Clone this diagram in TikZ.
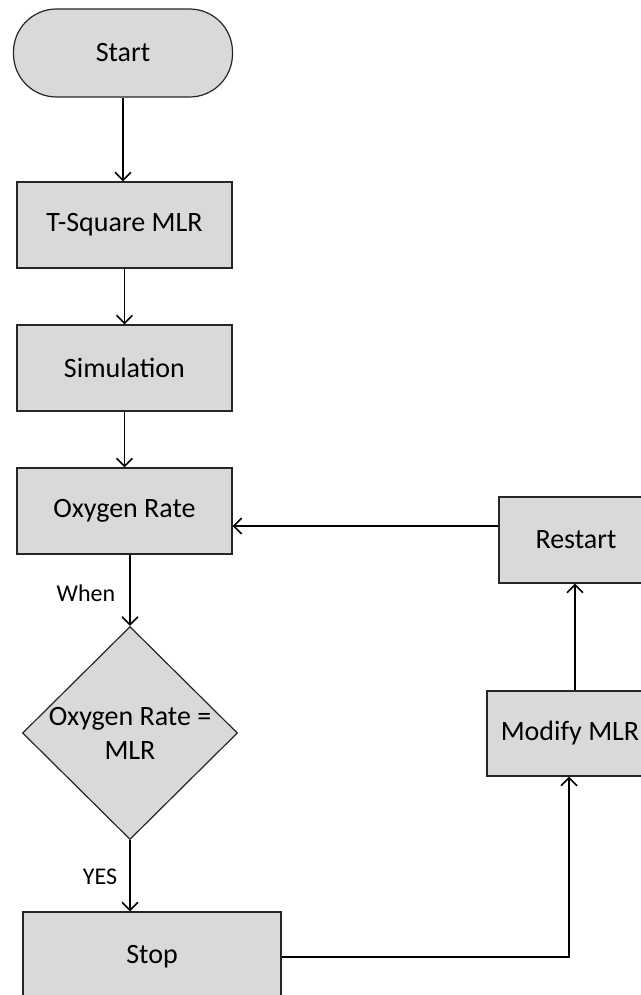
\documentclass[tikz,border=0pt]{standalone}
\usepackage{fontspec}
\setmainfont{Carlito}
\usepackage{xcolor}
\usepackage{tikz}
\usetikzlibrary{calc,positioning,arrows.meta,shapes.geometric}
\definecolor{boxFill}{HTML}{D9D9D9}
\definecolor{boxLine}{HTML}{262626}

\begin{document}
\begin{tikzpicture}[
  x=0.5pt, y=-0.5pt,
  every node/.style={font=\fontsize{14}{17}\selectfont},
  process/.style={rectangle, draw=boxLine, fill=boxFill, line width=0.6pt,
    minimum width=#1, minimum height=43pt, align=center, inner sep=0pt},
  process/.default=107.5pt,
  terminal/.style={process, rounded corners=21.5pt, minimum width=109.5pt, minimum height=44pt},
  decision/.style={diamond, draw=boxLine, fill=boxFill, line width=0.6pt,
    minimum width=107.5pt, minimum height=106.5pt, inner sep=0pt},
  arrow/.style={-{Straight Barb[length=4pt, width=8pt]}, line width=0.8pt},
  tag/.style={font=\fontsize{12}{14}\selectfont},
]
\clip (0,0) rectangle (641,995);

% === main column ===
\node[terminal] (start) at (123,53) {Start};
\node[process] (tsq) at (124.5,225) {T-Square MLR};
\node[process] (sim) at (124.5,368) {Simulation};
\node[process] (oxy) at (124.5,511) {Oxygen Rate};
\node[decision, label={[align=center]center:Oxygen Rate =\\MLR}] (dec) at (130,733) {};
\node[process=129pt, minimum height=45pt] (stop) at (152,957) {Stop};

% === loop back (right) ===
\node[process=83pt, minimum height=42.5pt] (mod) at (570,733.5) {Modify MLR};
\node[process=77pt] (restart) at (576,540) {Restart};

\draw[arrow] (start) -- (start |- tsq.north);
\draw[arrow] (tsq) -- (sim);
\draw[arrow] (sim) -- (oxy);
\draw[arrow] (dec.north |- oxy.south) -- (dec.north);
\draw[arrow] (dec.south) -- (dec.south |- stop.north);

\node[tag] at (86,593) {When};
\node[tag] at (100,877) {YES};

\draw[arrow] (stop.east) -| ([xshift=-0.5pt]mod.south);
\draw[arrow] ([xshift=2.5pt]mod.north) -- ([xshift=2.5pt]mod.north |- restart.south);
\draw[arrow] ([yshift=7pt]restart.west) -- ([yshift=7pt]restart.west -| oxy.east);
\end{tikzpicture}
\end{document}
